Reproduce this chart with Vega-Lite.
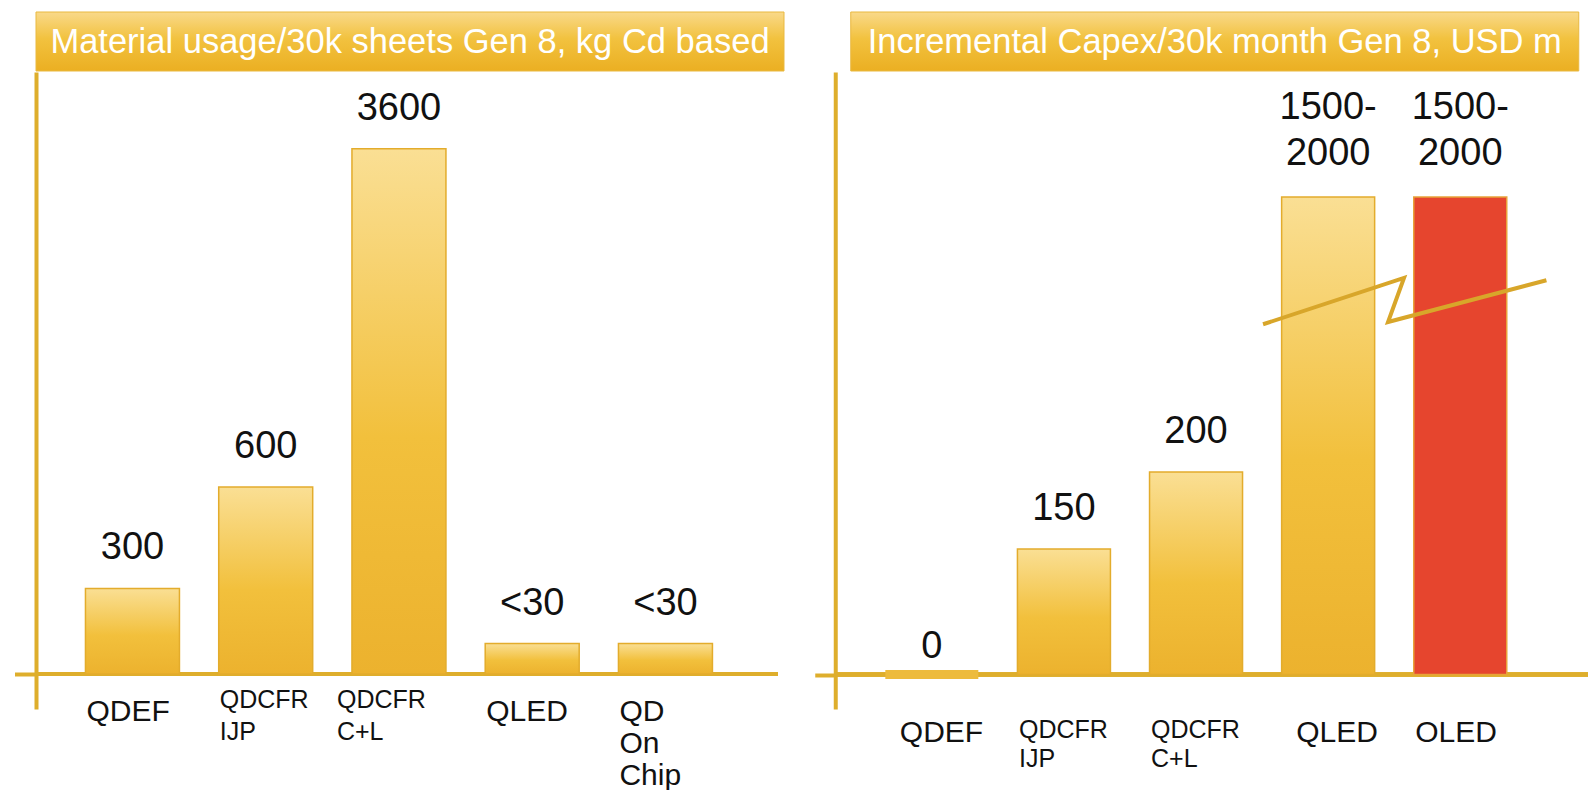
{
  "$schema": "https://vega.github.io/schema/vega-lite/v6.json",
  "background": "white",
  "padding": {"left": 12, "top": 11, "right": 0, "bottom": 0},
  "spacing": 27,
  "config": {
    "view": {"stroke": null},
    "font": "Liberation Sans"
  },
  "hconcat": [
    {
      "spacing": 0,
      "vconcat": [
        {
          "width": 748,
          "height": 59,
          "data": {"values": [{"title": "Material usage/30k sheets Gen 8, kg Cd based"}]},
          "layer": [
            {
              "mark": {
                "type": "rect",
                "color": {"gradient": "linear", "x1": 0, "y1": 0, "x2": 0, "y2": 1,
                  "stops": [{"offset": 0, "color": "#F9D98A"}, {"offset": 0.45, "color": "#F2C23F"}, {"offset": 1, "color": "#EBAF22"}]},
                "stroke": "#E9B940",
                "strokeWidth": 1
              },
              "encoding": {
                "x": {"datum": -1, "type": "quantitative", "scale": {"domain": [-1, 1], "nice": false, "zero": false}, "axis": null},
                "x2": {"datum": 1},
                "y": {"datum": -1, "type": "quantitative", "scale": {"domain": [-1, 1], "nice": false, "zero": false}, "axis": null},
                "y2": {"datum": 1}
              }
            },
            {
              "mark": {"type": "text", "color": "white", "fontSize": 34.5, "baseline": "middle", "dy": 1},
              "encoding": {
                "text": {"field": "title"},
                "x": {"datum": 0, "type": "quantitative"},
                "y": {"datum": 0, "type": "quantitative"}
              }
            }
          ]
        },
        {
          "width": 742,
          "height": 637,
          "data": {"values": [
            {"cat": "QDEF", "value": 300, "label": "300"},
            {"cat": "QDCFR IJP", "value": 600, "label": "600"},
            {"cat": "QDCFR C+L", "value": 3600, "label": "3600"},
            {"cat": "QLED", "value": 30, "label": "<30"},
            {"cat": "QD On Chip", "value": 30, "label": "<30"}
          ]},
          "layer": [
            {
              "mark": {"type": "rule", "color": "#DEAE2C", "strokeWidth": 4},
              "encoding": {"y": {"datum": 0, "type": "quantitative"}}
            },
            {
              "mark": {
                "type": "bar",
                "color": {"gradient": "linear", "x1": 0, "y1": 0, "x2": 0, "y2": 1,
                  "stops": [{"offset": 0, "color": "#FADF94"}, {"offset": 0.55, "color": "#F2C03C"}, {"offset": 1, "color": "#ECB22E"}]},
                "stroke": "#E3AC2C",
                "strokeWidth": 1.5
              },
              "encoding": {
                "x": {
                  "field": "cat", "type": "nominal", "sort": null,
                  "scale": {"paddingInner": 0.2946, "paddingOuter": 0.4316, "align": 0.43},
                  "axis": {
                    "title": null, "domain": false, "ticks": false, "labelAngle": 0,
                    "labelAlign": "left", "labelBaseline": "top",
                    "labelOffset": {"condition": {"test": "datum.value === 'QDCFR C+L'", "value": -62}, "value": -46},
                    "labelPadding": {"condition": {"test": "indexof(datum.value, 'QDCFR') >= 0", "value": -22}, "value": -13},
                    "labelColor": "#111",
                    "labelFontSize": {"condition": {"test": "indexof(datum.value, 'QDCFR') >= 0", "value": 25}, "value": 30},
                    "labelLineHeight": 32,
                    "labelExpr": "split(datum.label, ' ')",
                    "labelOverlap": false, "labelLimit": 0, "labelBound": false
                  }
                },
                "y": {
                  "field": "value", "type": "quantitative",
                  "scale": {"domain": [-100, 0, 30, 300, 600, 3600, 4280], "range": [637, 602, 571.5, 516.4, 415.1, 76.7, 0], "nice": false, "zero": false},
                  "axis": {"domain": true, "domainColor": "#DEAE2C", "domainWidth": 4, "ticks": true, "values": [0], "tickSize": 21.5, "tickWidth": 4, "tickColor": "#DEAE2C", "labels": false, "grid": false, "title": null}
                },
                "y2": {"datum": 0}
              }
            },
            {
              "mark": {"type": "text", "fontSize": 38, "color": "#111", "baseline": "bottom", "dy": -21},
              "encoding": {
                "x": {"field": "cat", "type": "nominal", "sort": null},
                "y": {"field": "value", "type": "quantitative"},
                "text": {"field": "label"}
              }
            }
          ]
        }
      ]
    },
    {
      "spacing": 0,
      "center": true,
      "vconcat": [
        {
          "width": 728,
          "height": 59,
          "data": {"values": [{"title": "Incremental Capex/30k month Gen 8, USD m"}]},
          "layer": [
            {
              "mark": {
                "type": "rect",
                "color": {"gradient": "linear", "x1": 0, "y1": 0, "x2": 0, "y2": 1,
                  "stops": [{"offset": 0, "color": "#F9D98A"}, {"offset": 0.45, "color": "#F2C23F"}, {"offset": 1, "color": "#EBAF22"}]},
                "stroke": "#E9B940",
                "strokeWidth": 1
              },
              "encoding": {
                "x": {"datum": -1, "type": "quantitative", "scale": {"domain": [-1, 1], "nice": false, "zero": false}, "axis": null},
                "x2": {"datum": 1},
                "y": {"datum": -1, "type": "quantitative", "scale": {"domain": [-1, 1], "nice": false, "zero": false}, "axis": null},
                "y2": {"datum": 1}
              }
            },
            {
              "mark": {"type": "text", "color": "white", "fontSize": 34.5, "baseline": "middle", "dy": 1},
              "encoding": {
                "text": {"field": "title"},
                "x": {"datum": 0, "type": "quantitative"},
                "y": {"datum": 0, "type": "quantitative"}
              }
            }
          ]
        },
        {
          "width": 757.5,
          "height": 637,
          "resolve": {"scale": {"x": "independent"}},
          "layer": [
            {
              "data": {"values": [
                {"cat": "QDEF", "value": 0, "label": "0"},
                {"cat": "QDCFR IJP", "value": 150, "label": "150"},
                {"cat": "QDCFR C+L", "value": 200, "label": "200"},
                {"cat": "QLED", "value": 2000, "label": "1500-\n2000"},
                {"cat": "OLED", "value": 2000, "label": "1500-\n2000"}
              ]},
              "layer": [
                {
                  "mark": {"type": "rule", "color": "#DEAE2C", "strokeWidth": 4},
                  "encoding": {"y": {"datum": 0, "type": "quantitative"}}
                },
                {
                  "transform": [{"filter": "datum.value > 0 && datum.cat !== 'OLED'"}],
                  "mark": {
                    "type": "bar",
                    "color": {"gradient": "linear", "x1": 0, "y1": 0, "x2": 0, "y2": 1,
                      "stops": [{"offset": 0, "color": "#FADF94"}, {"offset": 0.55, "color": "#F2C03C"}, {"offset": 1, "color": "#ECB22E"}]},
                    "stroke": "#E3AC2C",
                    "strokeWidth": 1.5
                  },
                  "encoding": {
                    "x": {
                      "field": "cat", "type": "nominal", "sort": null,
                      "scale": {"domain": ["QDEF", "QDCFR IJP", "QDCFR C+L", "QLED", "OLED"], "paddingInner": 0.296, "paddingOuter": 0.515, "align": 0.368},
                      "axis": {
                        "title": null, "domain": false, "ticks": false, "labelAngle": 0,
                        "labelAlign": "left", "labelBaseline": "top",
                        "labelOffset": {"condition": {"test": "datum.value === 'QDEF' || datum.value === 'QLED'", "value": -32}, "value": -45},
                        "labelPadding": 8,
                        "labelColor": "#111",
                        "labelFontSize": {"condition": {"test": "indexof(datum.value, 'QDCFR') >= 0", "value": 25}, "value": 30},
                        "labelLineHeight": 29,
                        "labelExpr": "split(datum.label, ' ')",
                        "labelOverlap": false, "labelLimit": 0, "labelBound": false
                      }
                    },
                    "y": {
                      "field": "value", "type": "quantitative",
                      "scale": {"domain": [-100, 0, 150, 200, 2000, 2818], "range": [637, 602.5, 477, 400, 125, 0], "nice": false, "zero": false},
                      "axis": {"domain": true, "domainColor": "#DEAE2C", "domainWidth": 4, "ticks": true, "values": [0], "tickSize": 20.5, "tickWidth": 4, "tickColor": "#DEAE2C", "labels": false, "grid": false, "title": null}
                    },
                    "y2": {"datum": 0}
                  }
                },
                {
                  "transform": [{"filter": "datum.cat === 'OLED'"}],
                  "mark": {"type": "bar", "color": "#E6452E", "stroke": "#E8A23A", "strokeWidth": 1.5},
                  "encoding": {
                    "x": {"field": "cat", "type": "nominal", "sort": null},
                    "y": {"field": "value", "type": "quantitative"},
                    "y2": {"datum": 0}
                  }
                },
                {
                  "transform": [{"filter": "datum.value === 0"}],
                  "mark": {"type": "tick", "color": "#EDBB3C", "thickness": 9, "size": 93, "opacity": 1},
                  "encoding": {
                    "x": {"field": "cat", "type": "nominal", "sort": null},
                    "y": {"field": "value", "type": "quantitative"}
                  }
                },
                {
                  "transform": [{"filter": "datum.value > 0 && indexof(datum.label, '\\n') < 0"}],
                  "mark": {"type": "text", "fontSize": 38, "color": "#111", "baseline": "bottom", "dy": -21},
                  "encoding": {
                    "x": {"field": "cat", "type": "nominal", "sort": null},
                    "y": {"field": "value", "type": "quantitative"},
                    "text": {"field": "label"}
                  }
                },
                {
                  "transform": [{"filter": "datum.value === 0"}],
                  "mark": {"type": "text", "fontSize": 38, "color": "#111", "baseline": "bottom", "dy": -9},
                  "encoding": {
                    "x": {"field": "cat", "type": "nominal", "sort": null},
                    "y": {"field": "value", "type": "quantitative"},
                    "text": {"field": "label"}
                  }
                },
                {
                  "transform": [{"filter": "indexof(datum.label, '\\n') >= 0"}],
                  "mark": {"type": "text", "fontSize": 38, "color": "#111", "baseline": "bottom", "dy": -70, "lineBreak": "\n", "lineHeight": 46},
                  "encoding": {
                    "x": {"field": "cat", "type": "nominal", "sort": null},
                    "y": {"field": "value", "type": "quantitative"},
                    "text": {"field": "label"}
                  }
                }
              ]
            },
            {
              "data": {"values": [
                {"pt": 1, "zx": 2.508, "zy": 1167},
                {"pt": 2, "zx": 3.575, "zy": 1470},
                {"pt": 3, "zx": 3.454, "zy": 1182},
                {"pt": 4, "zx": 4.653, "zy": 1455}
              ]},
              "mark": {"type": "line", "color": "#D8A62A", "strokeWidth": 4, "strokeJoin": "miter"},
              "encoding": {
                "x": {"field": "zx", "type": "quantitative", "scale": {"domain": [-0.7305, 5.0038], "nice": false, "zero": false}, "axis": null},
                "y": {"field": "zy", "type": "quantitative"},
                "order": {"field": "pt"}
              }
            }
          ]
        }
      ]
    }
  ]
}
